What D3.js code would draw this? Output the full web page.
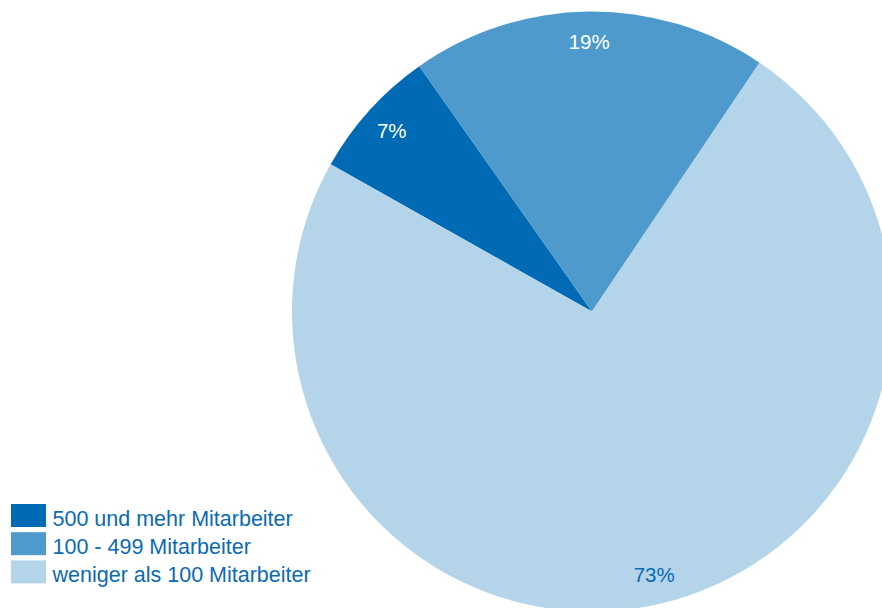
<!DOCTYPE html>
<html>
<head>
<meta charset="utf-8">
<script src="https://cdn.jsdelivr.net/npm/d3@7"></script>
<style>
  html, body { margin: 0; padding: 0; background: #fff; }
  svg { display: block; }
</style>
</head>
<body>
<svg id="chart" width="882" height="608"></svg>
<script>
// Unternehmensgröße nach Mitarbeiterzahl
const categories = ["500 und mehr Mitarbeiter", "100 - 499 Mitarbeiter", "weniger als 100 Mitarbeiter"];
const values = [7, 19, 73];
const valueLabels = ["7%", "19%", "73%"];
const colors = ["#006ab4", "#4e9acd", "#b4d4e9"];
const labelColors = ["#ffffff", "#ffffff", "#0a6ab4"];

const width = 882, height = 608;
const cx = 592, cy = 311.5, radius = 300;

const svg = d3.select("#chart");

const data = categories.map((c, i) => ({ name: c, value: values[i], label: valueLabels[i], color: colors[i], labelColor: labelColors[i] }));

const start = -60.6 * Math.PI / 180;
const pie = d3.pie()
  .value(d => d.value)
  .sort(null)
  .startAngle(start)
  .endAngle(start + 2 * Math.PI);

const arcs = pie(data);
const arc = d3.arc().innerRadius(0).outerRadius(radius);
const labelArc = d3.arc().innerRadius(radius * 0.9).outerRadius(radius * 0.9);

const g = svg.append("g").attr("transform", `translate(${cx},${cy})`);

g.selectAll("path.slice")
  .data(arcs)
  .join("path")
  .attr("class", "slice")
  .attr("d", arc)
  .attr("fill", d => d.data.color);

g.selectAll("text.value")
  .data(arcs)
  .join("text")
  .attr("class", "value")
  .attr("transform", d => `translate(${labelArc.centroid(d)})`)
  .attr("text-anchor", "middle")
  .attr("dy", "0.36em")
  .attr("font-family", "Liberation Sans, Arial, sans-serif")
  .attr("font-size", 20.5)
  .attr("fill", d => d.data.labelColor)
  .text(d => d.data.label);

// Legende
const legend = svg.append("g").attr("transform", "translate(11,504)");
const rows = legend.selectAll("g.row")
  .data(data)
  .join("g")
  .attr("class", "row")
  .attr("transform", (d, i) => `translate(0,${i * 28.2})`);

rows.append("rect")
  .attr("width", 35)
  .attr("height", 23)
  .attr("fill", d => d.color);

rows.append("text")
  .attr("x", 41.5)
  .attr("y", 21.5)
  .attr("font-family", "Liberation Sans, Arial, sans-serif")
  .attr("font-size", 21.5)
  .attr("fill", "#0a6ab4")
  .text(d => d.name);
</script>
</body>
</html>
